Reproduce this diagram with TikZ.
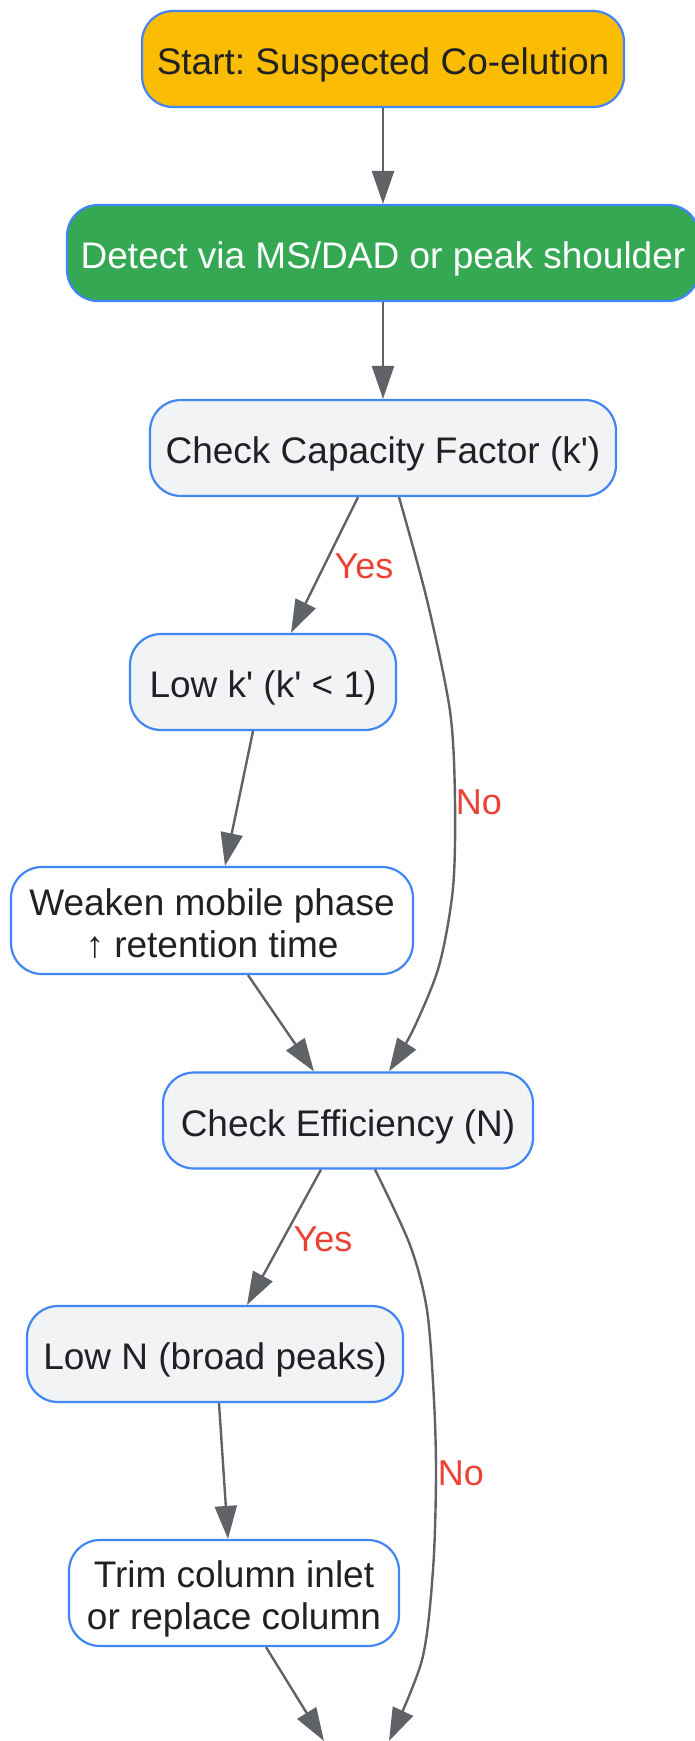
\documentclass[tikz,border=0pt]{standalone}
\usepackage{fontspec}
\setmainfont{Liberation Sans}
\usetikzlibrary{arrows.meta,calc}
\definecolor{bblue}{HTML}{4285F4}
\definecolor{gyellow}{HTML}{FBBC04}
\definecolor{ggreen}{HTML}{34A853}
\definecolor{lgray}{HTML}{F1F3F4}
\definecolor{tdark}{HTML}{202124}
\definecolor{agray}{HTML}{5F6368}
\definecolor{lred}{HTML}{EA4335}
\frenchspacing
\begin{document}
\begin{tikzpicture}[x=1pt,y=-1pt,
 box/.style={draw=bblue, line width=2.2pt, rounded corners=31pt, minimum height=96pt, inner sep=0pt, align=center, text=tdark, font=\fontsize{37}{42}\selectfont},
 oneline/.style={text height=39pt, text depth=8pt},
 conn/.style={draw=agray, line width=2.4pt, -{Triangle[length=33pt,width=22pt]}},
 lbl/.style={text=lred, font=\fontsize{36}{40}\selectfont, inner sep=0pt}]
\useasboundingbox (0,0) rectangle (694,1741);
\node[box, oneline, fill=gyellow, minimum width=482pt] (start) at (383,59) {Start: Suspected Co-elution};
\node[box, oneline, fill=ggreen, text=white, minimum width=632pt] (detect) at (383,253) {Detect via MS/DAD or peak shoulder};
\node[box, oneline, fill=lgray, minimum width=466pt] (cc) at (383,448) {Check Capacity Factor (k\textquotesingle)};
\node[box, oneline, fill=lgray, minimum width=266pt] (lowk) at (263,682) {Low k\textquotesingle{} (k\textquotesingle{} < 1)};
\node[box, fill=white, minimum width=402pt, minimum height=107pt] (weaken) at (212,920.5) {\rule{0pt}{33.5pt}Weaken mobile phase\\↑ retention time};
\node[box, oneline, fill=lgray, minimum width=370pt] (ce) at (348,1120.5) {Check Efficiency (N)};
\node[box, oneline, fill=lgray, minimum width=376pt] (lown) at (215,1354) {Low N (broad peaks)};
\node[box, fill=white, minimum width=330pt, minimum height=106pt] (trim) at (234,1593) {\rule{0pt}{38pt}Trim column inlet\\or replace column};
\coordinate (e1) at (324,1741);
\coordinate (e2) at (389,1741);
\draw[conn] (start) -- (detect);
\draw[conn] (detect) -- (cc);
\draw[conn] ($(cc.south)+(-25,0)$) -- ($(lowk.north)+(28,0)$);
\draw[conn] ($(lowk.south)+(-10,0)$) -- ($(weaken.north)+(13,0)$);
\draw[conn] ($(weaken.south)+(36,0)$) -- ($(ce.north)+(-34,0)$);
\draw[conn] ($(ce.south)+(-27,0)$) -- ($(lown.north)+(32,0)$);
\draw[conn] ($(lown.south)+(4,0)$) -- ($(trim.north)+(-6,0)$);
\draw[conn] ($(trim.south)+(32,0)$) -- (e1);
\coordinate (a1) at ($(cc.south)+(16,0)$);
\coordinate (a2) at ($(ce.north)+(41,0)$);
\draw[conn] plot[smooth] coordinates {(a1) (427,600) (450,711) (455,800) (453,888) (439,966) (413,1030) (a2)};
\coordinate (b1) at ($(ce.south)+(27,0)$);
\draw[conn] plot[smooth] coordinates {(b1) (410,1245) (427,1310) (434,1400) (436,1477) (433,1570) (422,1660) (e2)};
\node[lbl] (y1) at (364,566) {Yes};
\node[lbl] (n1) at (479,802) {No};
\node[lbl] (y2) at (323,1239) {Yes};
\node[lbl] (n2) at (461,1473) {No};
\end{tikzpicture}
\end{document}
